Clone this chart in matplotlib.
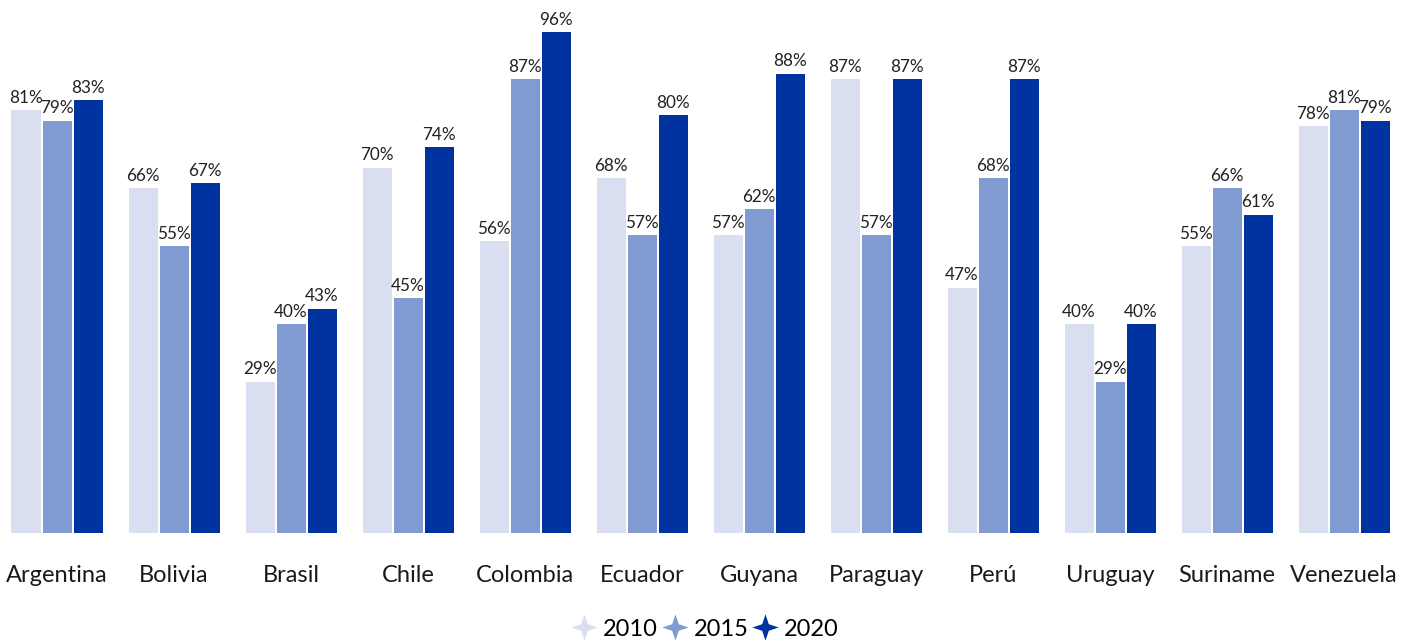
import numpy as np
import matplotlib.pyplot as plt
from matplotlib.path import Path
from matplotlib.lines import Line2D

# ---- Data ----
countries = ['Argentina', 'Bolivia', 'Brasil', 'Chile', 'Colombia', 'Ecuador',
             'Guyana', 'Paraguay', 'Perú', 'Uruguay', 'Suriname', 'Venezuela']
years = ['2010', '2015', '2020']
v2010 = [81, 66, 29, 70, 56, 68, 57, 87, 47, 40, 55, 78]
v2015 = [79, 55, 40, 45, 87, 57, 62, 57, 68, 29, 66, 81]
v2020 = [83, 67, 43, 74, 96, 80, 88, 87, 87, 40, 61, 79]
colors = ['#D9DFF1', '#7F9BD1', '#0033A0']

plt.rcParams['font.family'] = ['Lato', 'DejaVu Sans']

fig = plt.figure(figsize=(14.11, 6.44), dpi=100)
ax = fig.add_axes([0, 111 / 644, 1, 533 / 644])

x = np.arange(len(countries))
step = 31 / 117
width = 29 / 117

for i, (vals, col) in enumerate(zip([v2010, v2015, v2020], colors)):
    pos = x + (i - 1) * step
    bars = ax.bar(pos, vals, width=width, color=col, linewidth=0)
    for b, v in zip(bars, vals):
        ax.annotate(f'{v}%', (b.get_x() + b.get_width() / 2, v),
                    xytext=(0, 3), textcoords='offset points',
                    ha='center', va='bottom', fontsize=12.3, color='#222222')

ax.set_xlim(-57 / 117, (1411 - 57) / 117)
ax.set_ylim(0, 533 / 5.22)
ax.set_xticks(x)
ax.set_xticklabels(countries, fontsize=17, color='#1a1a1a')
ax.tick_params(axis='x', length=0, pad=23)
ax.set_yticks([])
for s in ax.spines.values():
    s.set_visible(False)

# 4-point star marker for legend
star = Path([(0, 1), (0.25, 0.25), (1, 0), (0.25, -0.25), (0, -1),
             (-0.25, -0.25), (-1, 0), (-0.25, 0.25), (0, 1)])
handles = [Line2D([], [], linestyle='none', marker=star, markersize=19,
                  markerfacecolor=c, markeredgewidth=0) for c in colors]
fig.legend(handles, years, loc='center', bbox_to_anchor=(0.5, 1 - 629 / 644),
           ncol=3, frameon=False, fontsize=17, handletextpad=0.3,
           columnspacing=0.2, handlelength=1.0)

fig.savefig('out.png', dpi=100)
